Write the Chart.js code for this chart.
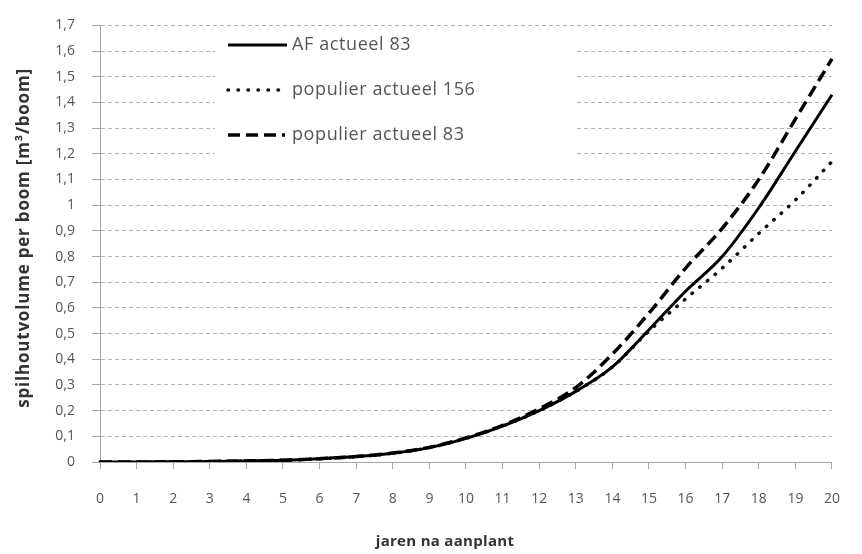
<!DOCTYPE html>
<html>
<head>
<meta charset="utf-8">
<script src="https://cdn.jsdelivr.net/npm/chart.js@4"></script>
<style>
  html, body { margin: 0; padding: 0; background: #fff; }
  #wrap { width: 862px; height: 554px; }
</style>
</head>
<body>
<div id="wrap"><canvas id="volumeChart"></canvas></div>
<script>
// years after planting
const years = [0, 1, 2, 3, 4, 5, 6, 7, 8, 9, 10, 11, 12, 13, 14, 15, 16, 17, 18, 19, 20];

// stem volume per tree [m3/boom]
const afActueel83 = [0, 0, 0.001, 0.002, 0.004, 0.007, 0.013, 0.021, 0.034, 0.056, 0.092, 0.14, 0.2, 0.275, 0.37, 0.515, 0.665, 0.8, 0.99, 1.21, 1.43];
const populierActueel156 = [0, 0, 0.001, 0.002, 0.004, 0.007, 0.013, 0.021, 0.034, 0.056, 0.092, 0.14, 0.2, 0.275, 0.37, 0.51, 0.635, 0.755, 0.89, 1.02, 1.17];
const populierActueel83 = [0, 0, 0.001, 0.002, 0.004, 0.007, 0.013, 0.021, 0.035, 0.057, 0.094, 0.143, 0.207, 0.29, 0.42, 0.58, 0.755, 0.91, 1.1, 1.335, 1.57];

const seriesLabels = ['AF actueel 83', 'populier actueel 156', 'populier actueel 83'];
const xTitle = 'jaren na aanplant';
const yTitle = 'spilhoutvolume per boom [m³/boom]';

// legend box inside the plot plus both axis titles
const overlay = {
    id: 'overlay',
    afterDatasetsDraw(chart) {
        const ctx = chart.ctx;
        ctx.save();
        ctx.fillStyle = '#fff';
        ctx.fillRect(215, 30, 362, 130);

        chart.data.datasets.forEach((ds, i) => {
            const y = 45 + i * 45;
            ctx.beginPath();
            ctx.strokeStyle = ds.borderColor;
            ctx.lineWidth = ds.borderWidth;
            ctx.lineCap = ds.borderCapStyle || 'butt';
            ctx.setLineDash(ds.borderDash || []);
            ctx.moveTo(228, y);
            ctx.lineTo(ds.borderDash ? 285 : 287, y);
            ctx.stroke();

            ctx.setLineDash([]);
            ctx.fillStyle = '#555';
            ctx.font = '18px "Open Sans"';
            ctx.letterSpacing = '0.6px';
            ctx.textBaseline = 'middle';
            ctx.textAlign = 'left';
            ctx.fillText(ds.label, 292, y);
        });

        ctx.fillStyle = '#333';
        ctx.font = 'bold 15px "Open Sans"';
        ctx.letterSpacing = '0.3px';
        ctx.textAlign = 'center';
        ctx.textBaseline = 'middle';
        ctx.fillText(xTitle, 445, 542);

        ctx.translate(24, 238);
        ctx.rotate(-Math.PI / 2);
        ctx.font = 'bold 17px "Open Sans"';
        ctx.letterSpacing = '0.8px';
        ctx.fillText(yTitle, 0, 0);
        ctx.restore();
    }
};

const ctx = document.getElementById('volumeChart').getContext('2d');

new Chart(ctx, {
    type: 'line',
    data: {
        labels: years,
        datasets: [
            {
                label: seriesLabels[0],
                data: afActueel83,
                borderColor: '#000',
                borderWidth: 3
            },
            {
                label: seriesLabels[1],
                data: populierActueel156,
                borderColor: '#111',
                borderWidth: 3.5,
                borderDash: [0.5, 9.5],
                borderCapStyle: 'round'
            },
            {
                label: seriesLabels[2],
                data: populierActueel83,
                borderColor: '#000',
                borderWidth: 3.5,
                borderDash: [12, 6]
            }
        ]
    },
    options: {
        responsive: true,
        maintainAspectRatio: false,
        animation: false,
        layout: { padding: { top: 16, right: 16, left: 0, bottom: 0 } },
        elements: {
            point: { radius: 0 },
            line: { cubicInterpolationMode: 'monotone', fill: false }
        },
        plugins: {
            legend: { display: false },
            tooltip: { enabled: false }
        },
        scales: {
            x: {
                afterFit: (scale) => { scale.height = 92; },
                grid: {
                    drawOnChartArea: false,
                    tickLength: 7,
                    tickColor: '#a6a6a6'
                },
                border: { color: '#a6a6a6', width: 1 },
                ticks: {
                    padding: 22,
                    color: '#555',
                    font: { family: '"Open Sans"', size: 14 },
                    maxRotation: 0,
                    autoSkip: false
                }
            },
            y: {
                min: 0,
                max: 1.7,
                afterFit: (scale) => { scale.width = 100; },
                grid: {
                    color: '#b3b3b3',
                    tickLength: 8,
                    tickColor: '#a6a6a6',
                    tickBorderDash: []
                },
                border: { color: '#a6a6a6', width: 1, dash: [4, 3] },
                ticks: {
                    stepSize: 0.1,
                    padding: 17,
                    color: '#555',
                    font: { family: '"Open Sans"', size: 14 },
                    callback: (v) => Number(v.toFixed(1)).toString().replace('.', ',')
                }
            }
        }
    },
    plugins: [overlay]
});
</script>
</body>
</html>
